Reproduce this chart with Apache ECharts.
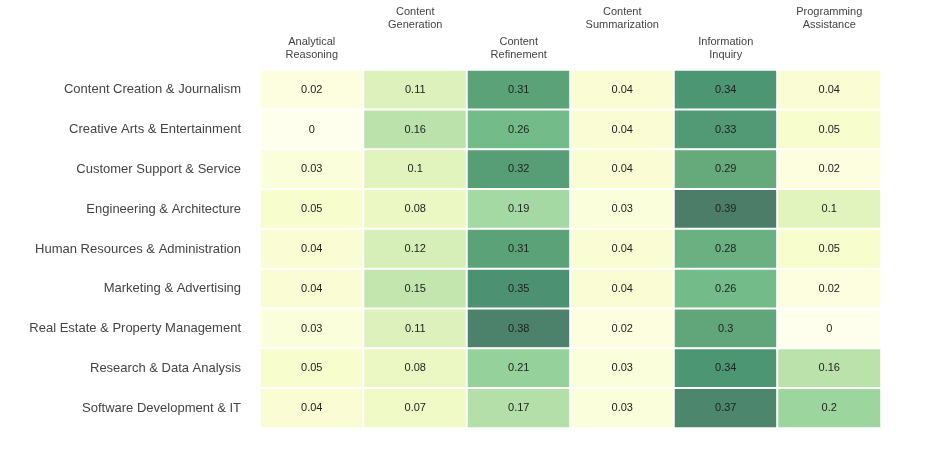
<!DOCTYPE html>
<html>
<head>
<meta charset="utf-8">
<script src="https://cdn.jsdelivr.net/npm/echarts@6/dist/echarts.min.js"></script>
<style>
  html, body { margin: 0; padding: 0; background: #fff; }
  #chart { width: 927px; height: 464px; }
</style>
</head>
<body>
<div id="chart"></div>
<script>
// rows (occupations) and columns (task types)
const occupations = [
  'Content Creation & Journalism',
  'Creative Arts & Entertainment',
  'Customer Support & Service',
  'Engineering & Architecture',
  'Human Resources & Administration',
  'Marketing & Advertising',
  'Real Estate & Property Management',
  'Research & Data Analysis',
  'Software Development & IT'
];
const tasks = [
  'Analytical\nReasoning',
  'Content\nGeneration',
  'Content\nRefinement',
  'Content\nSummarization',
  'Information\nInquiry',
  'Programming\nAssistance'
];

// share per occupation, one array per task column
const analytical    = [0.02, 0,    0.03, 0.05, 0.04, 0.04, 0.03, 0.05, 0.04];
const generation    = [0.11, 0.16, 0.1,  0.08, 0.12, 0.15, 0.11, 0.08, 0.07];
const refinement    = [0.31, 0.26, 0.32, 0.19, 0.31, 0.35, 0.38, 0.21, 0.17];
const summarization = [0.04, 0.04, 0.04, 0.03, 0.04, 0.04, 0.02, 0.03, 0.03];
const inquiry       = [0.34, 0.33, 0.29, 0.39, 0.28, 0.26, 0.3,  0.34, 0.37];
const programming   = [0.04, 0.05, 0.02, 0.1,  0.05, 0.02, 0,    0.16, 0.2];

const columns = [analytical, generation, refinement, summarization, inquiry, programming];

const cells = [];
columns.forEach((col, x) => {
  col.forEach((v, y) => cells.push([x, y, v]));
});

// YlGn, pre-blended at 70% over white
const palette = ['#ffffed', '#f9fdce', '#e4f5bf', '#c6e7b0', '#a1d7a1',
                 '#7ac48e', '#65a97b', '#4c9573', '#4c7d69'];

const font = 'Liberation Sans, Arial, sans-serif';

const chart = echarts.init(document.getElementById('chart'));
chart.setOption({
  animation: false,
  backgroundColor: '#fff',
  grid: { left: 260, right: 46, top: 70, bottom: 36 },
  xAxis: {
    type: 'category',
    data: tasks,
    position: 'top',
    axisLine: { show: false },
    axisTick: { show: false },
    axisLabel: {
      interval: 0,
      margin: 9,
      fontFamily: font,
      fontSize: 11,
      lineHeight: 13,
      color: '#444',
      formatter: (v, i) => {
        const lines = v.split('\n').map(s => '{t|' + s + '}').join('\n');
        return i % 2 === 1 ? lines + '\n{gap| }' : lines;
      },
      rich: {
        t: { fontFamily: font, fontSize: 11, lineHeight: 13, color: '#444' },
        gap: { fontSize: 2, lineHeight: 30 }
      }
    }
  },
  yAxis: {
    type: 'category',
    data: occupations,
    inverse: true,
    axisLine: { show: false },
    axisTick: { show: false },
    axisLabel: {
      margin: 19,
      fontFamily: font,
      fontSize: 13,
      color: '#444'
    }
  },
  visualMap: {
    show: false,
    min: 0,
    max: 0.39,
    dimension: 2,
    inRange: { color: palette }
  },
  series: [{
    type: 'heatmap',
    data: cells,
    itemStyle: { borderColor: '#fff', borderWidth: 2 },
    emphasis: { disabled: true },
    label: {
      show: true,
      fontFamily: font,
      fontSize: 11,
      color: '#222',
      formatter: p => String(p.value[2])
    }
  }]
});
</script>
</body>
</html>
